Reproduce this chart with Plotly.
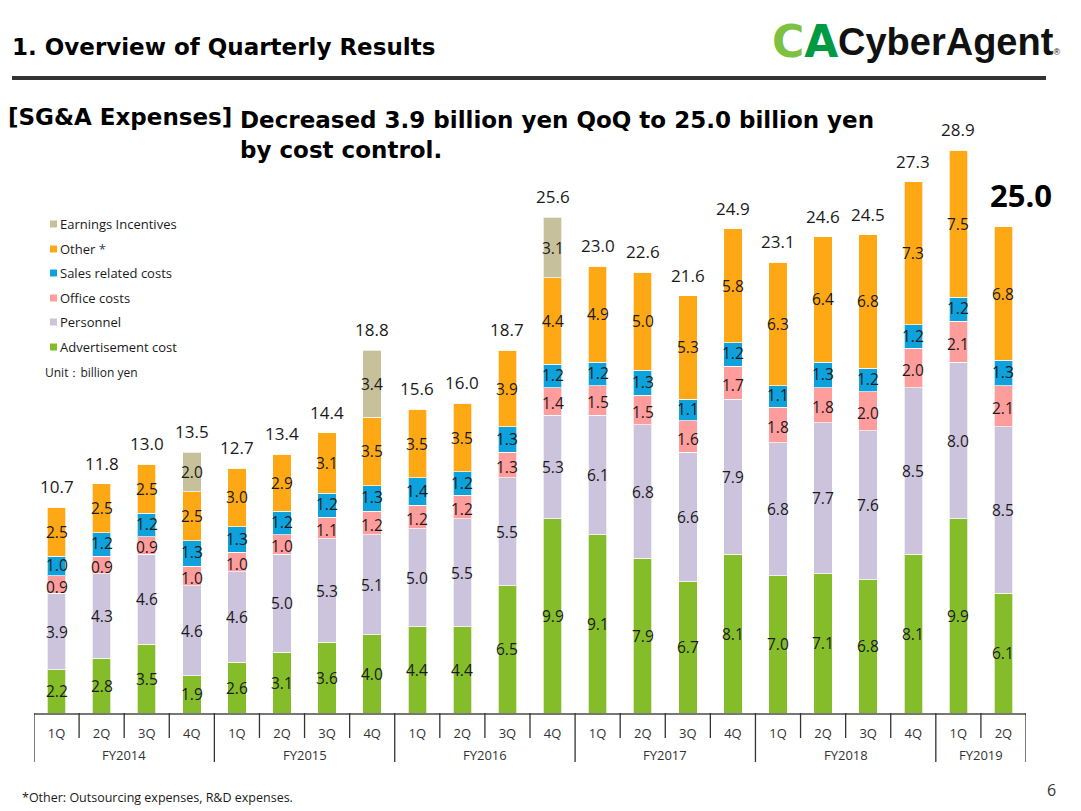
import plotly.graph_objects as go

fiscal_years = ["FY2014"] * 4 + ["FY2015"] * 4 + ["FY2016"] * 4 + ["FY2017"] * 4 + ["FY2018"] * 4 + ["FY2019"] * 2
quarters = ["1Q", "2Q", "3Q", "4Q"] * 5 + ["1Q", "2Q"]

advertisement = [2.2, 2.8, 3.5, 1.9, 2.6, 3.1, 3.6, 4.0, 4.4, 4.4, 6.5, 9.9, 9.1, 7.9, 6.7, 8.1, 7.0, 7.1, 6.8, 8.1, 9.9, 6.1]
personnel = [3.9, 4.3, 4.6, 4.6, 4.6, 5.0, 5.3, 5.1, 5.0, 5.5, 5.5, 5.3, 6.1, 6.8, 6.6, 7.9, 6.8, 7.7, 7.6, 8.5, 8.0, 8.5]
office = [0.9, 0.9, 0.9, 1.0, 1.0, 1.0, 1.1, 1.2, 1.2, 1.2, 1.3, 1.4, 1.5, 1.5, 1.6, 1.7, 1.8, 1.8, 2.0, 2.0, 2.1, 2.1]
sales_related = [1.0, 1.2, 1.2, 1.3, 1.3, 1.2, 1.2, 1.3, 1.4, 1.2, 1.3, 1.2, 1.2, 1.3, 1.1, 1.2, 1.1, 1.3, 1.2, 1.2, 1.2, 1.3]
other = [2.5, 2.5, 2.5, 2.5, 3.0, 2.9, 3.1, 3.5, 3.5, 3.5, 3.9, 4.4, 4.9, 5.0, 5.3, 5.8, 6.3, 6.4, 6.8, 7.3, 7.5, 6.8]
earnings_incentives = [0, 0, 0, 2.0, 0, 0, 0, 3.4, 0, 0, 0, 3.1, 0, 0, 0, 0, 0, 0, 0, 0, 0, 0]
totals = [10.7, 11.8, 13.0, 13.5, 12.7, 13.4, 14.4, 18.8, 15.6, 16.0, 18.7, 25.6, 23.0, 22.6, 21.6, 24.9, 23.1, 24.6, 24.5, 27.3, 28.9, 25.0]

series = [
    ("Advertisement cost", advertisement, "#85BD2A"),
    ("Personnel", personnel, "#CCC3DC"),
    ("Office costs", office, "#FF9C9C"),
    ("Sales related costs", sales_related, "#0EA1DC"),
    ("Other *", other, "#FFA816"),
    ("Earnings Incentives", earnings_incentives, "#C6C09B"),
]
# small vertical nudges (px) of the in-bar labels so thin neighbouring segments stay readable
label_nudge = {"Office costs": -2, "Sales related costs": 1}

x = [f"{fy} {q}" for fy, q in zip(fiscal_years, quarters)]
n = len(x)
FONT = "Open Sans"
HEAD = "DejaVu Sans"
TXT = "#1a1a1a"

# page geometry (the page body adds an 8px margin)
OFF = 8
W, Hh = 1081 - OFF, 811 - OFF
L, T = 34 - OFF, 100 - OFF
PLOT_BOTTOM = 713 - OFF
PLOT_RIGHT = 1026 - OFF
R, B = W - PLOT_RIGHT, Hh - PLOT_BOTTOM
PW, PH = W - L - R, Hh - T - B


def px(xp):
    return (xp - OFF - L) / PW


def pyy(yp):
    return (PLOT_BOTTOM - (yp - OFF)) / PH


fig = go.Figure()
base = [0.0] * n
for name, vals, color in series:
    fig.add_trace(go.Bar(
        x=x, y=vals, name=name,
        marker=dict(color=color, line=dict(color="rgba(255,255,255,0.7)", width=1)),
        showlegend=False, hoverinfo="name+y",
    ))
    for i, v in enumerate(vals):
        if v > 0:
            fig.add_annotation(x=x[i], y=base[i] + v / 2, text=f"{v:.1f}", showarrow=False,
                               xanchor="center", yanchor="middle", yshift=label_nudge.get(name, 0),
                               font=dict(family=FONT, size=15.5, color=TXT))
        base[i] += v

for i in range(n - 1):
    fig.add_annotation(x=x[i], y=base[i], text=f"{totals[i]:.1f}", showarrow=False,
                       xanchor="center", yanchor="bottom", yshift=7,
                       font=dict(family=FONT, size=17, color=TXT))
fig.add_annotation(x=x[-1], y=base[-1], text=f"<b>{totals[-1]:.1f}</b>", showarrow=False,
                   xanchor="center", yanchor="bottom", xshift=18, yshift=9,
                   font=dict(family=FONT, size=31, color="#000"))

shapes = []
fy_bounds = [i for i in range(n + 1) if i == 0 or i == n or fiscal_years[i] != fiscal_years[i - 1]]
for i in range(n + 1):
    long = i in fy_bounds
    shapes.append(dict(type="line", xref="x", yref="paper", x0=i - 0.5, x1=i - 0.5,
                       y0=0, y1=-(49 if long else 25) / PH, line=dict(color="#333", width=1.3)))
for k in range(len(fy_bounds) - 1):
    a, b = fy_bounds[k], fy_bounds[k + 1]
    fig.add_annotation(x=(a + b - 1) / 2, y=-42 / PH, xref="x", yref="paper", text=fiscal_years[a],
                       showarrow=False, font=dict(family=FONT, size=13, color="#333"), yanchor="middle")

# header
fig.add_annotation(x=px(10), y=pyy(47), xref="paper", yref="paper", text="<b>1. Overview of Quarterly Results</b>",
                   showarrow=False, xanchor="left", yanchor="middle", font=dict(family=HEAD, size=23, color="#000"))
shapes.append(dict(type="line", xref="paper", yref="paper", x0=px(12), x1=px(1046), y0=pyy(78), y1=pyy(78),
                   line=dict(color="#333", width=4)))
fig.add_annotation(x=px(6), y=pyy(117), xref="paper", yref="paper", text="<b>[SG&A Expenses]</b>",
                   showarrow=False, xanchor="left", yanchor="middle", font=dict(family=HEAD, size=23, color="#000"))
fig.add_annotation(x=px(238), y=pyy(135), xref="paper", yref="paper",
                   text="<b>Decreased 3.9 billion yen QoQ to 25.0 billion yen<br>by cost control.</b>",
                   showarrow=False, xanchor="left", yanchor="middle", align="left",
                   font=dict(family=HEAD, size=23, color="#000"))

# logo
fig.add_annotation(x=px(770), y=pyy(42), xref="paper", yref="paper",
                   text='<b><span style="color:#7CC142">C</span><span style="color:#009A44">A</span></b>',
                   showarrow=False, xanchor="left", yanchor="middle",
                   font=dict(family="DejaVu Sans", size=44))
fig.add_annotation(x=px(836), y=pyy(42), xref="paper", yref="paper",
                   text='<b>CyberAgent</b><span style="font-size:9px">®</span>',
                   showarrow=False, xanchor="left", yanchor="middle",
                   font=dict(family="Liberation Sans", size=38, color="#111"))

# legend
legend_y = [224, 249, 273, 298, 322, 347]
for (name, vals, color), yy in zip(reversed(series), legend_y):
    shapes.append(dict(type="rect", xref="paper", yref="paper", x0=px(50), x1=px(57),
                       y0=pyy(yy + 3.5), y1=pyy(yy - 3.5), fillcolor=color, line=dict(width=0)))
    label = name
    if name.endswith("*"):
        label = name[:-1] + '<span style="color:#1F3A7A">*</span>'
    fig.add_annotation(x=px(58), y=pyy(yy), xref="paper", yref="paper", text=label, showarrow=False,
                       xanchor="left", yanchor="middle", font=dict(family=FONT, size=13, color=TXT))
fig.add_annotation(x=px(43), y=pyy(372), xref="paper", yref="paper", text="Unit：billion yen", showarrow=False,
                   xanchor="left", yanchor="middle", font=dict(family=FONT, size=12, color=TXT))

fig.add_annotation(x=px(20), y=pyy(797), xref="paper", yref="paper",
                   text="*Other: Outsourcing expenses, R&D expenses.", showarrow=False,
                   xanchor="left", yanchor="middle", font=dict(family=FONT, size=12.5, color=TXT))
fig.add_annotation(x=px(1058), y=pyy(790), xref="paper", yref="paper", text="6", showarrow=False,
                   xanchor="right", yanchor="middle", font=dict(family=FONT, size=16, color="#333"))

fig.update_layout(
    width=W, height=Hh, margin=dict(l=L, r=R, t=T, b=B),
    barmode="stack", bargap=0.59, plot_bgcolor="white", paper_bgcolor="white",
    shapes=shapes, showlegend=False,
    xaxis=dict(type="category", range=[-0.5, n - 0.5], showline=True, linecolor="#777", linewidth=2,
               ticks="", tickvals=x, ticktext=quarters, ticklabelstandoff=7,
               tickfont=dict(family=FONT, size=13, color="#333"),
               showgrid=False, zeroline=False, fixedrange=True),
    yaxis=dict(range=[0, PH / 19.6], visible=False, showgrid=False, zeroline=False),
)

fig.write_html("out.html")
